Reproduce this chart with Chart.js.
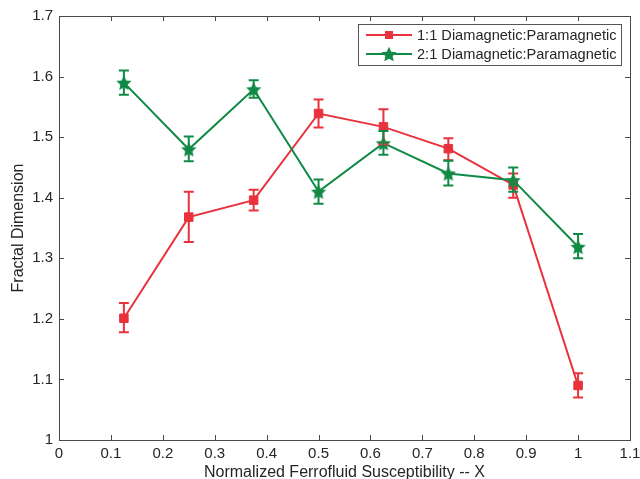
<!DOCTYPE html>
<html>
<head>
<meta charset="utf-8">
<script src="https://cdn.jsdelivr.net/npm/chart.js@4.4.1/dist/chart.umd.min.js"></script>
<style>
  html, body { margin: 0; padding: 0; background: #fff; }
  #wrap { width: 640px; height: 479px; }
</style>
</head>
<body>
<div id="wrap"><canvas id="c" width="640" height="479"></canvas></div>
<script>
// ---- data ----
const xValues = [0.125, 0.25, 0.375, 0.5, 0.625, 0.75, 0.875, 1.0];

const series11Label = '1:1 Diamagnetic:Paramagnetic';
const series11 = [1.201, 1.368, 1.396, 1.539, 1.517, 1.481, 1.421, 1.090];
const series11Low = [1.178, 1.327, 1.379, 1.516, 1.488, 1.462, 1.400, 1.070];
const series11High = [1.226, 1.410, 1.413, 1.562, 1.546, 1.498, 1.440, 1.110];

const series21Label = '2:1 Diamagnetic:Paramagnetic';
const series21 = [1.590, 1.480, 1.579, 1.410, 1.490, 1.440, 1.429, 1.319];
const series21Low = [1.570, 1.460, 1.565, 1.390, 1.471, 1.420, 1.410, 1.300];
const series21High = [1.610, 1.501, 1.594, 1.430, 1.510, 1.461, 1.450, 1.340];

const xTicks = [0, 0.1, 0.2, 0.3, 0.4, 0.5, 0.6, 0.7, 0.8, 0.9, 1.0, 1.1];
const xTickLabels = ['0', '0.1', '0.2', '0.3', '0.4', '0.5', '0.6', '0.7', '0.8', '0.9', '1', '1.1'];
const yTicks = [1.0, 1.1, 1.2, 1.3, 1.4, 1.5, 1.6, 1.7];
const yTickLabels = ['1', '1.1', '1.2', '1.3', '1.4', '1.5', '1.6', '1.7'];

const xTitle = 'Normalized Ferrofluid Susceptibility -- X';
const yTitle = 'Fractal Dimension';

// ---- styles ----
const RED = '#e8323c';
const GREEN = '#108a45';
const FONT = '"Liberation Sans", Arial, Helvetica, sans-serif';
const TEXT = '#262626';
const FRAME = '#4a4a4a';

function starImage(color, size) {
  const c = document.createElement('canvas');
  c.width = size; c.height = size;
  const g = c.getContext('2d');
  const cx = size / 2, cy = size / 2, ro = size / 2, ri = ro * 0.48;
  g.beginPath();
  for (let i = 0; i < 10; i++) {
    const r = i % 2 === 0 ? ro : ri;
    const a = -Math.PI / 2 + i * Math.PI / 5;
    const px = cx + r * Math.cos(a), py = cy + r * Math.sin(a) + 0.8;
    if (i === 0) g.moveTo(px, py); else g.lineTo(px, py);
  }
  g.closePath();
  g.fillStyle = color;
  g.fill();
  return c;
}
const starImg = starImage(GREEN, 16);

function toPoints(xs, ys) { return xs.map((x, i) => ({ x: x, y: ys[i] })); }

const errorBars = [
  { low: series11Low, high: series11High },
  { low: series21Low, high: series21High }
];

const errorBarPlugin = {
  id: 'errorBars',
  afterDatasetsDraw(chart) {
    const ctx = chart.ctx;
    const xs = chart.scales.x, ys = chart.scales.y;
    chart.data.datasets.forEach((ds, di) => {
      const eb = errorBars[di];
      ctx.save();
      ctx.strokeStyle = ds.borderColor;
      ctx.lineWidth = 2;
      ds.data.forEach((p, i) => {
        const px = xs.getPixelForValue(p.x);
        const y1 = ys.getPixelForValue(eb.low[i]);
        const y2 = ys.getPixelForValue(eb.high[i]);
        const hw = 5;
        ctx.beginPath();
        ctx.moveTo(px, y1); ctx.lineTo(px, y2);
        ctx.moveTo(px - hw, y1); ctx.lineTo(px + hw, y1);
        ctx.moveTo(px - hw, y2); ctx.lineTo(px + hw, y2);
        ctx.stroke();
      });
      ctx.restore();
    });
  }
};

const framePlugin = {
  id: 'frame',
  afterDraw(chart) {
    const ctx = chart.ctx;
    const a = chart.chartArea;
    const xs = chart.scales.x, ys = chart.scales.y;
    ctx.save();
    ctx.strokeStyle = FRAME;
    ctx.lineWidth = 1;
    ctx.strokeRect(Math.round(a.left) + 0.5, Math.round(a.top) + 0.5,
                   Math.round(a.right - a.left), Math.round(a.bottom - a.top));
    const tl = 5;
    ctx.beginPath();
    xs.ticks.forEach(t => {
      const px = Math.round(xs.getPixelForValue(t.value)) + 0.5;
      ctx.moveTo(px, a.bottom); ctx.lineTo(px, a.bottom - tl);
      ctx.moveTo(px, a.top); ctx.lineTo(px, a.top + tl);
    });
    ys.ticks.forEach(t => {
      const py = Math.round(ys.getPixelForValue(t.value)) + 0.5;
      ctx.moveTo(a.left, py); ctx.lineTo(a.left + tl, py);
      ctx.moveTo(a.right, py); ctx.lineTo(a.right - tl, py);
    });
    ctx.stroke();
    ctx.restore();
  }
};

const legendPlugin = {
  id: 'boxLegend',
  afterDraw(chart) {
    const ctx = chart.ctx;
    const bx = 358, by = 24, bw = 263, bh = 41;
    ctx.save();
    ctx.fillStyle = '#fff';
    ctx.fillRect(bx, by, bw, bh);
    ctx.strokeStyle = '#555';
    ctx.lineWidth = 1;
    ctx.strokeRect(bx + 0.5, by + 0.5, bw, bh);
    ctx.font = '14.6px ' + FONT;
    ctx.textBaseline = 'middle';
    ctx.textAlign = 'left';
    chart.data.datasets.forEach((ds, i) => {
      const y = by + 11 + i * 19;
      ctx.strokeStyle = ds.borderColor;
      ctx.lineWidth = 2;
      ctx.beginPath();
      ctx.moveTo(bx + 8, y); ctx.lineTo(bx + 54, y);
      ctx.stroke();
      if (i === 0) {
        ctx.fillStyle = ds.borderColor;
        ctx.fillRect(bx + 31 - 4, y - 4, 8, 8);
      } else {
        ctx.drawImage(starImg, bx + 31 - starImg.width / 2, y - starImg.height / 2);
      }
      ctx.fillStyle = TEXT;
      ctx.fillText(ds.label, bx + 59, y + 1);
    });
    ctx.restore();
  }
};

new Chart(document.getElementById('c'), {
  type: 'line',
  data: {
    datasets: [
      {
        label: series11Label,
        data: toPoints(xValues, series11),
        borderColor: RED,
        backgroundColor: RED,
        borderWidth: 2,
        pointStyle: 'rect',
        pointRadius: 6,
        pointBorderWidth: 1,
        pointBackgroundColor: RED,
        pointBorderColor: RED,
        tension: 0,
        order: 2
      },
      {
        label: series21Label,
        data: toPoints(xValues, series21),
        borderColor: GREEN,
        backgroundColor: GREEN,
        borderWidth: 2,
        pointStyle: starImg,
        pointRadius: 8,
        tension: 0,
        order: 1
      }
    ]
  },
  options: {
    responsive: false,
    animation: false,
    devicePixelRatio: 1,
    layout: { padding: { left: 0, top: 16, right: 9, bottom: 0 } },
    plugins: {
      legend: { display: false },
      tooltip: { enabled: false }
    },
    scales: {
      x: {
        type: 'linear',
        min: 0, max: 1.1,
        grid: { display: false, drawTicks: false },
        border: { display: false },
        afterBuildTicks: s => { s.ticks = xTicks.map(v => ({ value: v })); },
        afterFit: s => { s.height = 39; s.paddingLeft = 0; s.paddingRight = 0; },
        ticks: {
          padding: 5,
          color: TEXT,
          font: { family: FONT, size: 15 },
          maxRotation: 0,
          autoSkip: false,
          callback: (v, i) => xTickLabels[i]
        },
        title: {
          display: true,
          text: xTitle,
          color: TEXT,
          font: { family: FONT, size: 16, lineHeight: 1.2 },
          padding: { top: 0, bottom: -3 }
        }
      },
      y: {
        type: 'linear',
        min: 1, max: 1.7,
        grid: { display: false, drawTicks: false },
        border: { display: false },
        afterBuildTicks: s => { s.ticks = yTicks.map(v => ({ value: v })); },
        afterFit: s => { s.width = 59; s.paddingTop = 0; s.paddingBottom = 0; },
        ticks: {
          padding: 6,
          color: TEXT,
          font: { family: FONT, size: 15 },
          autoSkip: false,
          callback: (v, i) => yTickLabels[i]
        },
        title: {
          display: true,
          text: yTitle,
          color: TEXT,
          font: { family: FONT, size: 16, lineHeight: 1.2 },
          padding: { top: 9, bottom: 0 }
        }
      }
    }
  },
  plugins: [errorBarPlugin, framePlugin, legendPlugin]
});
</script>
</body>
</html>
